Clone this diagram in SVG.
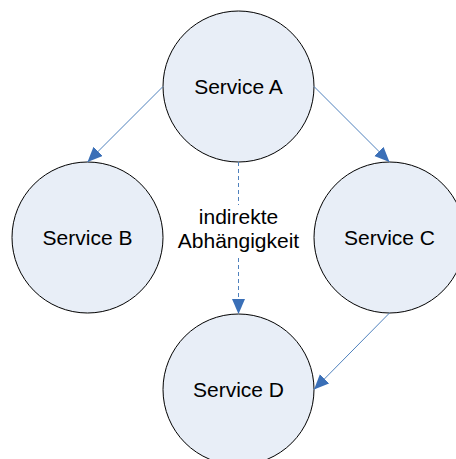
<svg xmlns="http://www.w3.org/2000/svg" width="456" height="459" viewBox="0 0 456 459">
  <style>
    .node circle { fill: #e8eef7; stroke: #000000; stroke-width: 1; }
    .node text, .label { font-family: "Liberation Sans", Arial, sans-serif; font-size: 21px; fill: #000000; text-anchor: middle; }
    .edge { stroke: #4f81bd; stroke-width: 1; fill: none; }
    .dashed { stroke-dasharray: 4 3; }
  </style>
  <defs>
    <marker id="arrow" markerUnits="userSpaceOnUse" markerWidth="16" markerHeight="14" refX="15" refY="6.5" orient="auto">
      <path d="M0,0 L15,6.5 L0,13 z" fill="#3a6fb7"/>
    </marker>
  </defs>
  <rect width="456" height="459" fill="#ffffff"/>
  <g id="node-a" class="node">
    <circle cx="238.5" cy="86.5" r="75.5"/>
    <text x="238.5" y="94">Service A</text>
  </g>
  <g id="node-b" class="node">
    <circle cx="87.5" cy="237.5" r="75.5"/>
    <text x="87.5" y="245">Service B</text>
  </g>
  <g id="node-c" class="node">
    <circle cx="389.5" cy="237.5" r="75.5"/>
    <text x="389.5" y="245">Service C</text>
  </g>
  <g id="node-d" class="node">
    <circle cx="238.5" cy="389.5" r="75.5"/>
    <text x="238.5" y="397">Service D</text>
  </g>
  <g id="connectors">
    <line class="edge" x1="163" y1="86.5" x2="87.5" y2="162" marker-end="url(#arrow)"/>
    <line class="edge" x1="314" y1="86.5" x2="389.5" y2="162" marker-end="url(#arrow)"/>
    <line class="edge" x1="389.5" y1="313" x2="314" y2="389.5" marker-end="url(#arrow)"/>
    <line class="edge dashed" x1="238.5" y1="162" x2="238.5" y2="205"/>
    <line class="edge dashed" x1="238.5" y1="258" x2="238.5" y2="314" marker-end="url(#arrow)"/>
    <text class="label" x="238.5" y="224">indirekte</text>
    <text class="label" x="238.5" y="248">Abhängigkeit</text>
  </g>
</svg>
